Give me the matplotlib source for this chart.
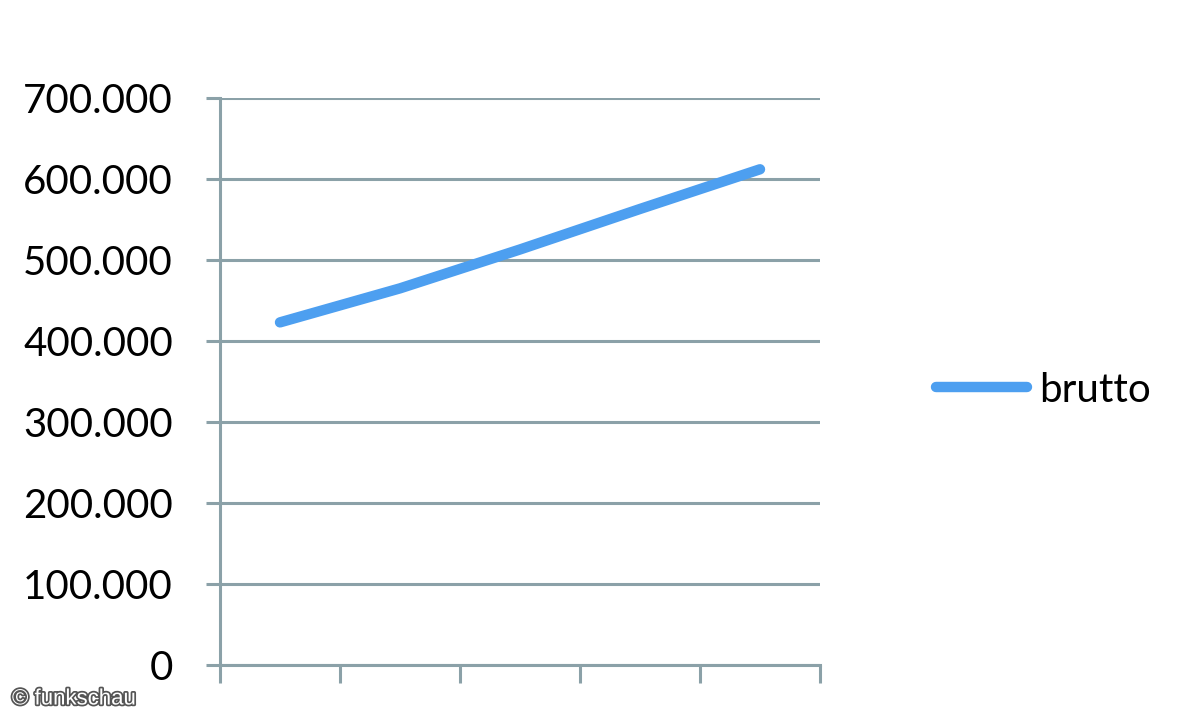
import matplotlib
matplotlib.use("Agg")
import matplotlib.pyplot as plt
import matplotlib.ticker as mticker
import matplotlib.patheffects as pe

plt.rcParams["font.family"] = ["Lato", "DejaVu Sans"]

# 데이터
categories = ["1", "2", "3", "4", "5"]
brutto = [423000, 465000, 513000, 563000, 612000]
y_ticks = [0, 100000, 200000, 300000, 400000, 500000, 600000, 700000]

GRID = "#8ba1a8"
BLUE = "#4d9ff0"

fig = plt.figure(figsize=(12, 7.2), dpi=100)
ax = fig.add_axes([220 / 1200, 55 / 720, 600 / 1200, 567 / 720])

x = list(range(len(categories)))
ax.plot(x, brutto, color=BLUE, lw=7.5, solid_capstyle="round", label="brutto", zorder=3)

ax.set_xlim(-0.5, len(categories) - 0.5)
ax.set_ylim(0, 700000)
ax.set_yticks(y_ticks)
ax.yaxis.set_major_formatter(
    mticker.FuncFormatter(lambda v, _: f"{int(v):,}".replace(",", "."))
)
ax.set_xticks([i - 0.5 for i in range(len(categories) + 1)])
ax.set_xticklabels([])

ax.grid(axis="y", color=GRID, lw=2.2)
ax.set_axisbelow(True)
for s in ["top", "right"]:
    ax.spines[s].set_visible(False)
for s in ["left", "bottom"]:
    ax.spines[s].set_color(GRID)
    ax.spines[s].set_linewidth(2.2)

ax.tick_params(axis="y", length=10, width=2.2, color=GRID, labelsize=29, pad=24)
ax.tick_params(axis="x", length=13, width=2.2, color=GRID)

fig.legend(loc="center left", bbox_to_anchor=(936 / 1200, 1 - 390 / 720),
           frameon=False, fontsize=29, handlelength=2.25, handletextpad=0.3,
           borderpad=0, borderaxespad=0)

fig.text(12 / 1200, 1 - 699 / 720, "© funkschau", fontsize=16, color="white",
         family="Liberation Sans", va="center", ha="left",
         path_effects=[pe.withStroke(linewidth=2.5, foreground="#555555")])

fig.savefig("out.png", dpi=100)
